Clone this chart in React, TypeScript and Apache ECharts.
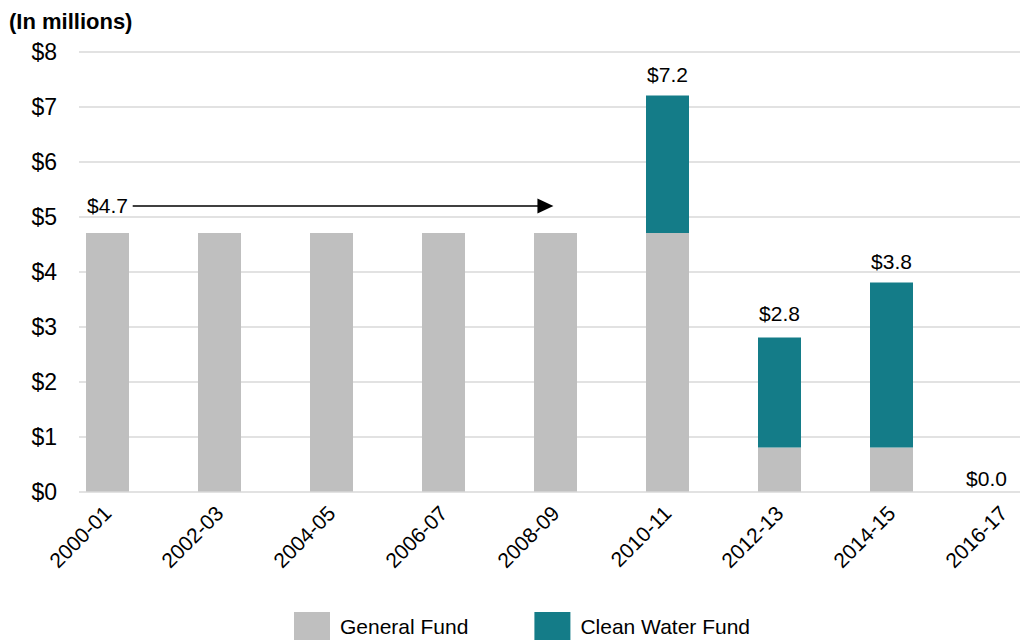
import React, { useEffect, useRef } from "react";
import * as echarts from "echarts";

const categories = ["2000-01", "2002-03", "2004-05", "2006-07", "2008-09", "2010-11", "2012-13", "2014-15", "2016-17"];
const generalFund = [4.7, 4.7, 4.7, 4.7, 4.7, 4.7, 0.8, 0.8, 0];
const cleanWaterFund = [0, 0, 0, 0, 0, 2.5, 2.0, 3.0, 0];
const totals = [4.7, 4.7, 4.7, 4.7, 4.7, 7.2, 2.8, 3.8, 0.0];
const labeledIndices = [0, 5, 6, 7, 8];
const yTicks = [0, 1, 2, 3, 4, 5, 6, 7, 8];
// arrow annotation: "$4.7" held constant from 2000-01 through 2008-09
// (positions in category-index units on a hidden continuous x axis)
const arrowFrom = 0.225;
const arrowTo = 3.91;
const arrowLevel = 5.19;

const FONT = "'Liberation Sans', Arial, sans-serif";

const labelTweaks: Record<number, { distance: number; offset: [number, number] }> = {
  0: { distance: 17, offset: [0, 0] },
  5: { distance: 11, offset: [0, 0] },
  6: { distance: 14, offset: [0, 0] },
  7: { distance: 11, offset: [0, 0] },
  8: { distance: 3, offset: [-17, 0] },
};

export default function App() {
  const ref = useRef<HTMLDivElement>(null);
  useEffect(() => {
    if (!ref.current) return;
    const chart = echarts.init(ref.current, null, { renderer: "svg" });
    const cleanData = cleanWaterFund.map((v, i) => {
      const show = labeledIndices.includes(i);
      const t = labelTweaks[i];
      return {
        value: v,
        label: show
          ? {
              show: true,
              position: "top",
              distance: t.distance,
              offset: t.offset,
              formatter: () => "$" + totals[i].toFixed(1),
              color: "#000",
              fontSize: 21,
              fontFamily: FONT,
            }
          : { show: false },
      };
    });
    chart.setOption({
      animation: false,
      backgroundColor: "#fff",
      title: {
        text: "(In millions)",
        left: 9,
        top: 10,
        padding: 0,
        textStyle: { fontSize: 22, fontWeight: "bold", fontFamily: FONT, color: "#000" },
      },
      legend: {
        left: 294,
        top: 612,
        padding: 0,
        itemWidth: 36,
        itemHeight: 28,
        itemGap: 66,
        icon: "rect",
        textStyle: { fontSize: 21, fontFamily: FONT, color: "#000", padding: [0, 0, 0, 5] },
        data: ["General Fund", "Clean Water Fund"],
      },
      grid: [
        { left: 51.5, top: 51.5, width: 1008, height: 440, outerBoundsMode: "none", containLabel: false },
        { left: 79, right: 0, top: 51.5, height: 440, outerBoundsMode: "none", containLabel: false },
      ],
      xAxis: [
        {
          type: "category",
          gridIndex: 0,
          data: categories,
          axisLine: { show: false },
          axisTick: { show: false },
          axisLabel: {
            interval: 0,
            rotate: 45,
            margin: 18,
            color: "#000",
            fontSize: 21,
            fontFamily: FONT,
          },
        },
        { type: "value", gridIndex: 1, min: 0, max: 1, show: false },
        { type: "value", gridIndex: 0, min: -0.5, max: categories.length - 0.5, show: false },
      ],
      yAxis: [
        { type: "value", gridIndex: 0, min: 0, max: 8, interval: 1, show: false },
        {
          type: "value",
          gridIndex: 1,
          min: yTicks[0],
          max: yTicks[yTicks.length - 1],
          interval: 1,
          axisLine: { show: false },
          axisTick: { show: false },
          splitLine: { show: true, lineStyle: { color: "#D9D9D9", width: 1.5 } },
          axisLabel: {
            formatter: (v: number) => "$" + v,
            margin: 22,
            color: "#000",
            fontSize: 23,
            fontFamily: FONT,
          },
        },
      ],
      series: [
        {
          name: "General Fund",
          type: "bar",
          stack: "total",
          xAxisIndex: 0,
          yAxisIndex: 0,
          barWidth: 43,
          itemStyle: { color: "#BFBFBF" },
          data: generalFund,
        },
        {
          name: "Clean Water Fund",
          type: "bar",
          stack: "total",
          xAxisIndex: 0,
          yAxisIndex: 0,
          barWidth: 43,
          itemStyle: { color: "#147C88" },
          data: cleanData,
        },
        {
          name: "arrow",
          type: "line",
          xAxisIndex: 2,
          yAxisIndex: 0,
          silent: true,
          showSymbol: false,
          symbol: "none",
          lineStyle: { opacity: 0 },
          data: [
            [arrowFrom, arrowLevel],
            [arrowTo, arrowLevel],
          ],
          markLine: {
            silent: true,
            symbol: ["none", "triangle"],
            symbolSize: [15, 16],
            label: { show: false },
            lineStyle: { color: "#000", width: 1.5, type: "solid" },
            data: [[{ coord: [arrowFrom, arrowLevel] }, { coord: [arrowTo, arrowLevel] }]],
          },
        },
      ],
    });
    return () => chart.dispose();
  }, []);
  return (
    <div
      ref={ref}
      style={{ position: "absolute", left: 0, top: 0, width: 1020, height: 641, background: "#fff" }}
    />
  );
}
